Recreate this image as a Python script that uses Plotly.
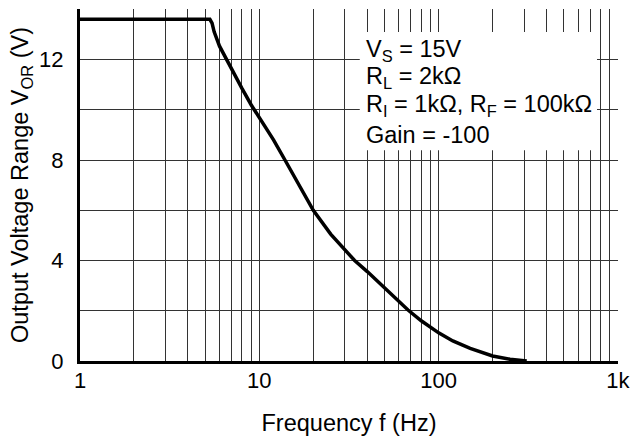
import plotly.graph_objects as go

# Data
freq_hz = [1, 2, 3, 4, 5, 5.3, 5.45, 5.6, 6, 7, 8, 9, 10, 12, 13.9, 16, 20, 25, 30, 34,
           40, 50, 60, 67.5, 80, 90, 100, 120, 150, 200, 250, 310]
v_or = [13.6, 13.6, 13.6, 13.6, 13.6, 13.6, 13.45, 13.1, 12.53, 11.6, 10.85, 10.2, 9.68,
        8.8, 8.0, 7.22, 6.0, 5.05, 4.4, 4.0, 3.56, 2.92, 2.38, 2.03, 1.6, 1.33, 1.12, 0.8,
        0.5, 0.2, 0.07, 0.0]

x_grid_vals = [m * 10 ** d for d in range(3) for m in range(1, 10)] + [1000]
x_tick_text = {1: "1", 10: "10", 100: "100", 1000: "1k"}
y_grid_vals = [0, 2, 4, 6, 8, 10, 12, 14]
y_tick_text = {0: "0", 4: "4", 8: "8", 12: "12"}

note_lines = ["V<sub>S</sub> = 15V", "R<sub>L</sub> = 2kΩ",
              "R<sub>I</sub> = 1kΩ, R<sub>F</sub> = 100kΩ", "Gain = -100"]
note_y = [0.882, 0.804, 0.727, 0.641]

FONT = "Arial, Liberation Sans, sans-serif"

fig = go.Figure()
fig.add_trace(go.Scatter(x=freq_hz, y=v_or, mode="lines",
                         line=dict(color="black", width=3.5),
                         showlegend=False, hoverinfo="skip"))

fig.update_layout(
    width=635, height=436,
    margin=dict(l=80, r=17, t=9, b=75, autoexpand=False),
    paper_bgcolor="white", plot_bgcolor="white",
    font=dict(family=FONT, size=22, color="black"),
    xaxis=dict(type="log", range=[0, 3.0003], automargin=False,
               tickvals=x_grid_vals,
               ticktext=[x_tick_text.get(v, "") for v in x_grid_vals],
               showgrid=True, gridcolor="#333", gridwidth=1,
               showline=True, linecolor="black", linewidth=3,
               ticks="", ticklabelstandoff=-2, zeroline=False,
               title=dict(text="Frequency f (Hz)", standoff=23,
                          font=dict(size=23.5))),
    yaxis=dict(range=[0, 14.01], automargin=False,
               tickvals=y_grid_vals,
               ticktext=[y_tick_text.get(v, "") for v in y_grid_vals],
               showgrid=True, gridcolor="#333", gridwidth=1,
               showline=True, linecolor="black", linewidth=3,
               ticks="", ticklabelstandoff=9, zeroline=False,
               title=dict(text="Output Voltage Range V<sub>OR</sub> (V)", standoff=4,
                          font=dict(size=23.5))),
)

fig.add_shape(type="rect", xref="paper", yref="paper",
              x0=0.520, x1=0.961, y0=0.599, y1=0.935,
              fillcolor="white", line=dict(width=0), layer="above")
for line_text, ly in zip(note_lines, note_y):
    fig.add_annotation(xref="paper", yref="paper", x=0.528, y=ly,
                       xanchor="left", yanchor="middle", align="left", showarrow=False,
                       text=line_text, font=dict(size=23.5, family=FONT))

fig.write_html("out.html", config={"displayModeBar": False},
               post_script="document.body.style.margin='0';document.body.style.overflow='hidden';")
